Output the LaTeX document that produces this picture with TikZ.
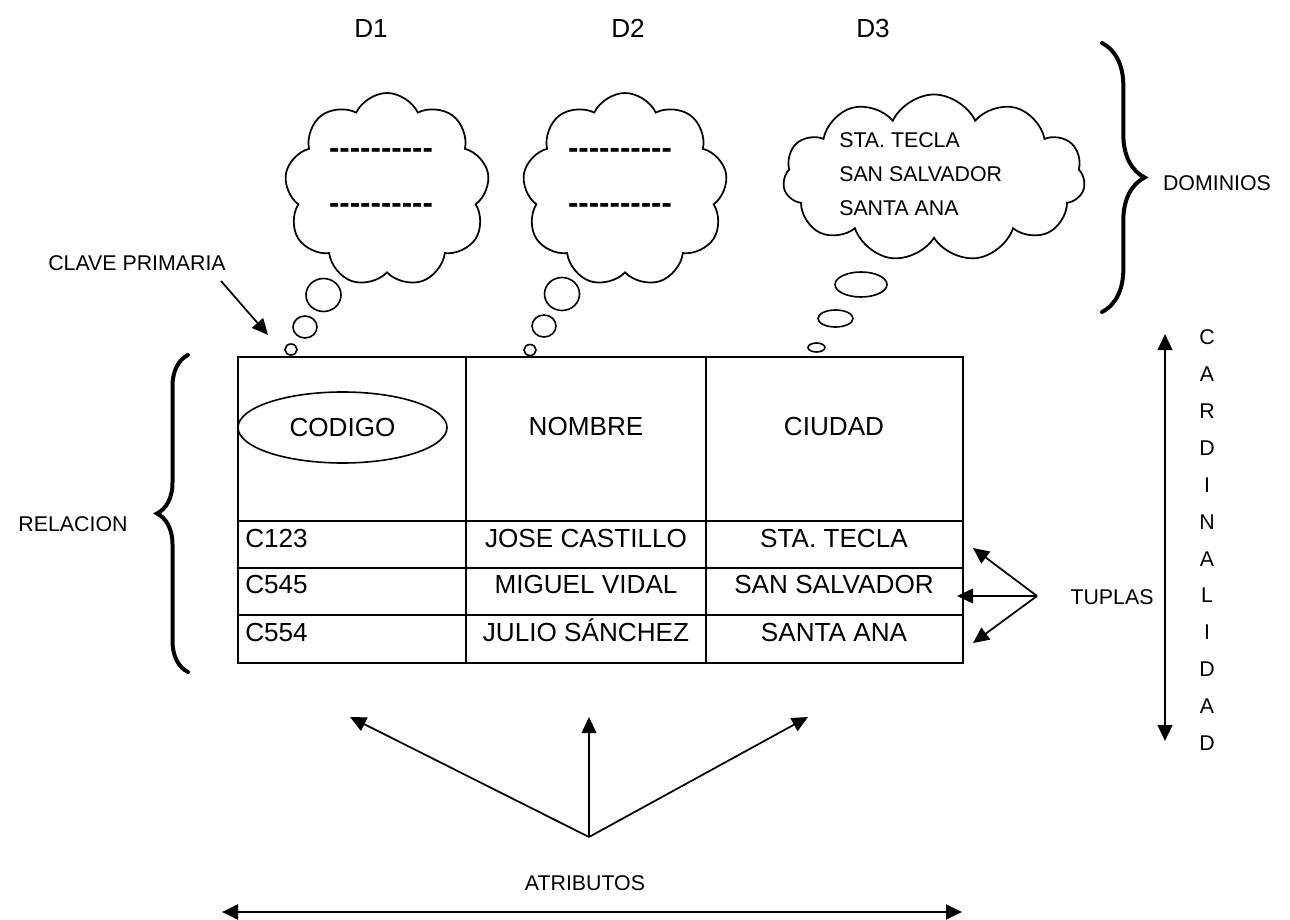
\documentclass[tikz,border=0pt]{standalone}
\usepackage{fontspec}
\setmainfont{Liberation Sans}
\newfontfamily\hyphenfont{Liberation Sans}[Ligatures=TeXOff]
\usetikzlibrary{shapes.geometric,shapes.symbols,arrows.meta,decorations.pathreplacing}

\begin{document}
\begin{tikzpicture}[x=0.75pt,y=-0.75pt,
  bigtxt/.style={font=\fontsize{19.6}{23}\selectfont, inner sep=0pt, anchor=base},
  smalltxt/.style={font=\fontsize{16}{19}\selectfont, inner sep=0pt, anchor=base},
  dashtxt/.style={font=\hyphenfont\bfseries\fontsize{23.4}{27}\selectfont, inner sep=0pt, anchor=base},
  grid/.style={line width=1.5pt},
  thought/.style={cloud, cloud puffs=9, cloud puff arc=130, cloud ignores aspect,
    draw, line width=1.3pt, inner sep=0pt},
  bubble/.style={ellipse, draw, line width=1.2pt, inner sep=0pt},
  arr/.style={line width=1.3pt, -{Triangle[length=12pt,width=11pt]}},
  dblarr/.style={line width=1.6pt, {Triangle[length=12pt,width=11pt]}-{Triangle[length=12pt,width=11pt]}},
  bracesty/.style={line width=3pt, decorate, line cap=round}
]
\useasboundingbox (0,0) rectangle (1290,920);

% domain headings
\node[bigtxt] (D1) at (371,37.5) {D1};
\node[bigtxt] (D2) at (628,37.5) {D2};
\node[bigtxt] (D3) at (873,37.5) {D3};

% thought clouds for the three domains
\node[thought, minimum width=153.75pt, minimum height=145.5pt] (c1) at (387,190) {};
\node[thought, minimum width=153.75pt, minimum height=145.5pt] (c2) at (625,190) {};
\node[thought, cloud puffs=11, minimum width=226.5pt, minimum height=125.25pt] (c3) at (934,178) {};

\node[dashtxt] (c1a) at (381,158.7) {----------};
\node[dashtxt] (c1b) at (381,213.7) {----------};
\node[dashtxt] (c2a) at (620,158.7) {----------};
\node[dashtxt] (c2b) at (620,213.7) {----------};

\node[smalltxt, anchor=base west] (c3a) at (839,147.6) {STA. TECLA};
\node[smalltxt, anchor=base west] (c3b) at (839,181.6) {SAN SALVADOR};
\node[smalltxt, anchor=base west] (c3c) at (839,215.6) {SANTA ANA};

% bubbles leading down to each column
\node[bubble, minimum width=26.25pt, minimum height=24.75pt] (b1a) at (323.5,295) {};
\node[bubble, minimum width=18pt, minimum height=16.5pt] (b1b) at (305,327) {};
\node[bubble, minimum width=9pt, minimum height=8.25pt] (b1c) at (291,349.5) {};
\node[bubble, minimum width=26.25pt, minimum height=24.75pt] (b2a) at (562,294) {};
\node[bubble, minimum width=18pt, minimum height=16.5pt] (b2b) at (544,326) {};
\node[bubble, minimum width=9pt, minimum height=8.25pt] (b2c) at (530,350) {};
\node[bubble, minimum width=39pt, minimum height=18.75pt] (b3a) at (861,284.5) {};
\node[bubble, minimum width=26.25pt, minimum height=12.75pt] (b3b) at (835.5,318.5) {};
\node[bubble, minimum width=12.75pt, minimum height=6.75pt] (b3c) at (816.5,347.5) {};

% right brace: domains
\draw[bracesty, decoration={brace, amplitude=32pt}] (1102,43) -- (1102,312);
\node[smalltxt] (dom) at (1217,191) {DOMINIOS};

% primary key label
\node[smalltxt] (pk) at (137,271) {CLAVE PRIMARIA};
\coordinate (pkfrom) at (221,281);
\coordinate (pkto) at (268,335);
\draw[arr] (pkfrom) -- (pkto);

% the relation table
\node[draw, grid, minimum width=543.75pt, minimum height=229.5pt, anchor=north west, inner sep=0pt] (tabla) at (237,356) {};
\draw[grid] (466,356) -- (466,662);
\draw[grid] (706,356) -- (706,662);
\draw[grid] (237,521) -- (962,521);
\draw[grid] (237,568) -- (962,568);
\draw[grid] (237,615) -- (962,615);

\node[ellipse, draw, line width=1.2pt, minimum width=156.75pt, minimum height=53.25pt, inner sep=0pt,
      font=\fontsize{19.6}{23}\selectfont] (codigo) at (342.5,427.5) {CODIGO};
\node[bigtxt] (nombre) at (586,435) {NOMBRE};
\node[bigtxt] (ciudad) at (834,435) {CIUDAD};

\node[bigtxt, anchor=base west] (r1a) at (245,547) {C123};
\node[bigtxt] (r1b) at (586,547) {JOSE CASTILLO};
\node[bigtxt] (r1c) at (834,547) {STA. TECLA};
\node[bigtxt, anchor=base west] (r2a) at (245,593) {C545};
\node[bigtxt] (r2b) at (586,593) {MIGUEL VIDAL};
\node[bigtxt] (r2c) at (834,593) {SAN SALVADOR};
\node[bigtxt, anchor=base west] (r3a) at (245,641) {C554};
\node[bigtxt] (r3b) at (586,641) {JULIO SÁNCHEZ};
\node[bigtxt] (r3c) at (834,641) {SANTA ANA};

% left brace: relation
\draw[bracesty, decoration={brace, amplitude=23.25pt}] (188,672) -- (188,355);
\node[smalltxt] (rel) at (73,531.6) {RELACION};

% tuples
\coordinate (tup) at (1037,596);
\coordinate (t1) at (973,548);
\coordinate (t2) at (957,596);
\coordinate (t3) at (973,643);
\draw[arr] (tup) -- (t1);
\draw[arr] (tup) -- (t2);
\draw[arr] (tup) -- (t3);
\node[smalltxt] (tuplas) at (1112,604) {TUPLAS};

% cardinality
\coordinate (cardtop) at (1165,334);
\coordinate (cardbot) at (1165,741);
\draw[dblarr] (cardbot) -- (cardtop);
\foreach \ch [count=\i from 0] in {C,A,R,D,I,N,A,L,I,D,A,D}
  \node[smalltxt] (card\i) at (1207,344.6+36.9*\i) {\ch};

% attributes
\coordinate (att) at (589,837);
\coordinate (a1) at (350,717);
\coordinate (a2) at (589,717);
\coordinate (a3) at (808,717);
\draw[arr] (att) -- (a1);
\draw[arr] (att) -- (a2);
\draw[arr] (att) -- (a3);
\node[smalltxt] (atr) at (585,890) {ATRIBUTOS};
\coordinate (ab1) at (222,912);
\coordinate (ab2) at (962,912);
\draw[dblarr, line width=2.2pt] (ab1) -- (ab2);
\end{tikzpicture}
\end{document}
